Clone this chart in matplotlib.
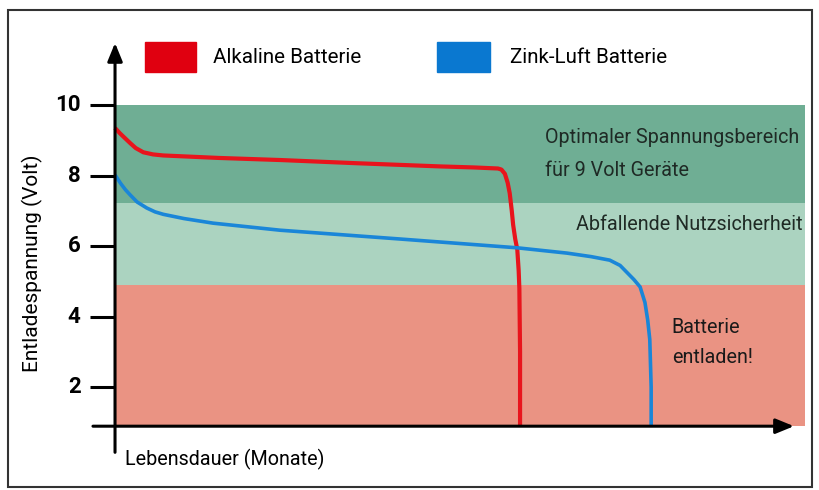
import matplotlib.pyplot as plt
from matplotlib.patches import Rectangle

plt.rcParams['font.family'] = ['Roboto', 'DejaVu Sans']

# discharge curves (x: relative lifetime, y: volt)
alk_x = [0, 0.7, 1.5, 2.2, 3.0, 4.1, 5.5, 7.0, 15, 24, 35, 47, 52, 55.5, 56.0, 56.5,
         56.9, 57.2, 57.5, 57.7, 58.0, 58.3, 58.5, 58.6, 58.7, 58.7]
alk_y = [9.35, 9.2, 9.05, 8.92, 8.78, 8.66, 8.6, 8.57, 8.5, 8.44, 8.35, 8.26, 8.23, 8.2, 8.17, 8.05,
         7.8, 7.5, 7.0, 6.6, 6.2, 5.9, 5.3, 4.8, 3.0, 0.9]
zn_x = [0, 0.8, 1.5, 2.2, 3.2, 4.6, 5.8, 7.0, 10, 14.2, 23.9, 41.3, 58.3, 65.5, 69, 71.7,
        73.2, 74.2, 75.2, 76.1, 76.8, 77.2, 77.5, 77.7, 77.7]
zn_y = [8.02, 7.78, 7.6, 7.45, 7.25, 7.08, 6.97, 6.9, 6.78, 6.65, 6.45, 6.2, 5.95, 5.8, 5.7, 5.6,
        5.45, 5.25, 5.05, 4.84, 4.4, 3.9, 3.35, 2.0, 0.9]

# voltage bands
band_lo = [7.22, 4.9, 0.89]
band_hi = [10.0, 7.22, 4.9]
band_col = ['#6fae94', '#abd3c0', '#ea9383']
band_end = 100

y_ticks = [2, 4, 6, 8, 10]
y_axis_min = 0.89

fig = plt.figure(figsize=(8.2, 4.9), dpi=100)
ax = fig.add_axes([0, 0, 1, 1])
ax.set_xlim(-16.67, 102.17)
ax.set_ylim(-0.92, 12.98)
ax.axis('off')

# outer frame
ax.add_patch(Rectangle((8 / 820, 3 / 490), 804 / 820, 477 / 490, transform=ax.transAxes,
                       fill=False, edgecolor='#333333', lw=1.5))

for lo, hi, c in zip(band_lo, band_hi, band_col):
    ax.fill_between([0, band_end], lo, hi, color=c, lw=0, zorder=1)

ax.plot(alk_x, alk_y, color='#e8141c', lw=3, zorder=3, solid_capstyle='butt', solid_joinstyle='round')
ax.plot(zn_x, zn_y, color='#1a86d8', lw=2.6, zorder=3, solid_capstyle='butt', solid_joinstyle='round')

# axes with arrows
ax.annotate('', xy=(98.8, y_axis_min), xytext=(-3.6, y_axis_min),
            arrowprops=dict(arrowstyle='-|>,head_length=1.1,head_width=0.45', color='black', lw=2.2), zorder=4)
ax.annotate('', xy=(0, 11.84), xytext=(0, 0.07),
            arrowprops=dict(arrowstyle='-|>,head_length=1.1,head_width=0.45', color='black', lw=2.2), zorder=4)
ax.hlines(y_ticks, -3.6, 0, color='black', lw=2.2, zorder=4)
for t in y_ticks:
    ax.text(-5.0, t, str(t), ha='right', va='center', fontsize=16, fontweight='bold')

ax.text(-11.9, 5.5, 'Entladespannung (Volt)', rotation=90, ha='center', va='center', fontsize=15)
ax.text(1.5, -0.05, 'Lebensdauer (Monate)', ha='left', va='center', fontsize=14.2)

# legend
ax.add_patch(Rectangle((4.3, 10.94), 7.5, 0.85, color='#e00010', zorder=2))
ax.text(14.2, 11.36, 'Alkaline Batterie', ha='left', va='center', fontsize=14.8)
ax.add_patch(Rectangle((46.7, 10.94), 7.6, 0.85, color='#0a78d0', zorder=2))
ax.text(57.3, 11.36, 'Zink-Luft Batterie', ha='left', va='center', fontsize=14.8)

# band labels
txt = '#1f2a25'
ax.text(62.3, 9.09, 'Optimaler Spannungsbereich', ha='left', va='center', fontsize=14.2, color=txt)
ax.text(62.3, 8.13, 'für 9 Volt Geräte', ha='left', va='center', fontsize=14.2, color=txt)
ax.text(99.6, 6.6, 'Abfallende Nutzsicherheit', ha='right', va='center', fontsize=14.2, color=txt)
ax.text(80.7, 3.7, 'Batterie', ha='left', va='center', fontsize=14.2, color='#1a1a1a')
ax.text(80.7, 2.85, 'entladen!', ha='left', va='center', fontsize=14.2, color='#1a1a1a')

fig.savefig('out.png', dpi=100)
